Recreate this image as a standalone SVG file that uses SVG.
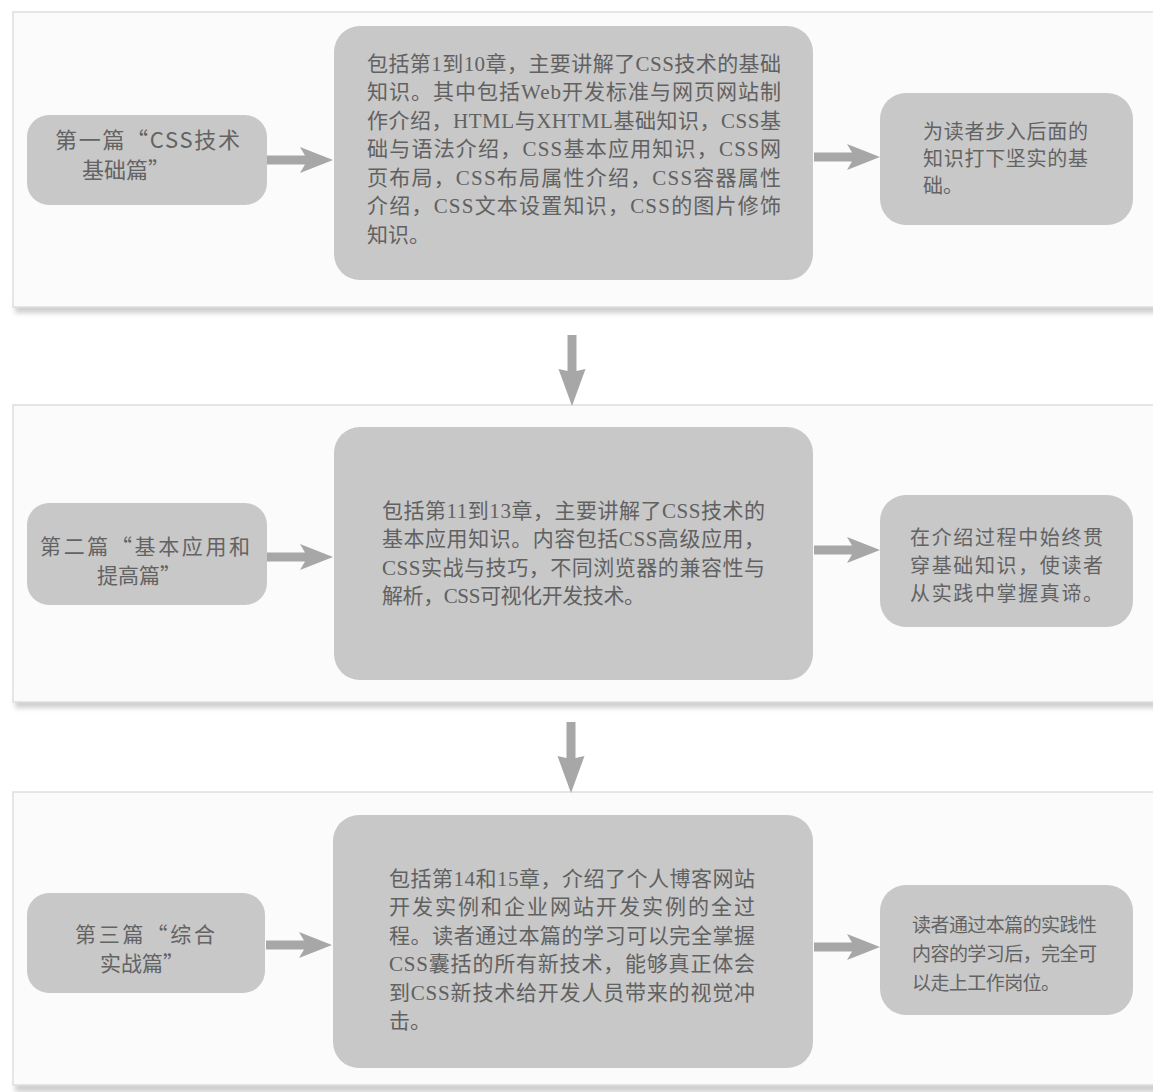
<svg xmlns="http://www.w3.org/2000/svg" xmlns:xlink="http://www.w3.org/1999/xlink" width="1153" height="1092" viewBox="0 0 1153 1092">
<style>
.panel{fill:#fbfbfb;stroke:#dedede;stroke-width:1.5}
.shadow{fill:#cfcfcf}
.node{fill:#c8c8c8}
.arrow{fill:#a7a7a7}
.lbl{font-family:"Noto Sans CJK SC","Liberation Sans",sans-serif;font-size:22px;fill:#636363}
.lbl2{font-size:21px}
.body{font-family:"Liberation Serif","Noto Sans CJK SC",serif;font-size:21px;fill:#616161}
.res{font-family:"Noto Sans CJK SC",sans-serif;font-size:20px;fill:#636363}
</style>
<defs>
<filter id="blur" x="-5%" y="-50%" width="110%" height="200%"><feGaussianBlur stdDeviation="2.5"/></filter>
<path id="harrow" d="M0,-4.5 L38,-4.5 L33,-13 L66,0 L33,13 L38,4.5 L0,4.5 Z"/>
<path id="varrow" d="M-4.5,0 L4.5,0 L4.5,36 L13.5,34 L0,71 L-13.5,34 L-4.5,36 Z"/>
</defs>
<rect width="1153" height="1092" fill="#ffffff"/>

<g id="panels">
<rect class="shadow" x="15" y="303" width="1150" height="10" filter="url(#blur)"/>
<rect class="panel" x="13" y="12" width="1150" height="295"/>
<rect class="shadow" x="15" y="698" width="1150" height="10" filter="url(#blur)"/>
<rect class="panel" x="13" y="405" width="1150" height="297"/>
<rect class="shadow" x="15" y="1082" width="1150" height="10" filter="url(#blur)"/>
<rect class="panel" x="13" y="792" width="1150" height="293"/>
</g>

<g id="node-part1">
<rect class="node" x="27" y="115" width="240" height="90" rx="22"/>
<text class="lbl" x="55" y="148" textLength="185" lengthAdjust="spacing">第一篇“CSS技术</text>
<text class="lbl" x="82" y="178">基础篇”</text>
</g>
<g id="node-content1">
<rect class="node" x="334" y="26" width="479" height="254" rx="26"/>
<text class="body">
<tspan x="367" y="70.5" textLength="414" lengthAdjust="spacing">包括第1到10章，主要讲解了CSS技术的基础</tspan>
<tspan x="367" y="99" textLength="414" lengthAdjust="spacing">知识。其中包括Web开发标准与网页网站制</tspan>
<tspan x="367" y="127.5" textLength="414" lengthAdjust="spacing">作介绍，HTML与XHTML基础知识，CSS基</tspan>
<tspan x="367" y="156" textLength="414" lengthAdjust="spacing">础与语法介绍，CSS基本应用知识，CSS网</tspan>
<tspan x="367" y="184.5" textLength="414" lengthAdjust="spacing">页布局，CSS布局属性介绍，CSS容器属性</tspan>
<tspan x="367" y="213" textLength="414" lengthAdjust="spacing">介绍，CSS文本设置知识，CSS的图片修饰</tspan>
<tspan x="367" y="241.5">知识。</tspan>
</text>
</g>
<g id="node-result1">
<rect class="node" x="880" y="93" width="253" height="132" rx="26"/>
<text class="res">
<tspan x="923" y="139" textLength="165" lengthAdjust="spacing">为读者步入后面的</tspan>
<tspan x="923" y="166" textLength="165" lengthAdjust="spacing">知识打下坚实的基</tspan>
<tspan x="923" y="193">础。</tspan>
</text>
</g>

<g id="node-part2">
<rect class="node" x="27" y="503" width="240" height="102" rx="22"/>
<text class="lbl lbl2" x="40" y="554" textLength="210" lengthAdjust="spacing">第二篇“基本应用和</text>
<text class="lbl lbl2" x="97" y="583">提高篇”</text>
</g>
<g id="node-content2">
<rect class="node" x="334" y="427" width="479" height="253" rx="26"/>
<text class="body">
<tspan x="382" y="517.5" textLength="383" lengthAdjust="spacing">包括第11到13章，主要讲解了CSS技术的</tspan>
<tspan x="382" y="546" textLength="383" lengthAdjust="spacing">基本应用知识。内容包括CSS高级应用，</tspan>
<tspan x="382" y="574.5" textLength="383" lengthAdjust="spacing">CSS实战与技巧，不同浏览器的兼容性与</tspan>
<tspan x="382" y="603" textLength="263" lengthAdjust="spacing">解析，CSS可视化开发技术。</tspan>
</text>
</g>
<g id="node-result2">
<rect class="node" x="880" y="495" width="253" height="132" rx="26"/>
<text class="res">
<tspan x="910" y="545" textLength="193" lengthAdjust="spacing">在介绍过程中始终贯</tspan>
<tspan x="910" y="573" textLength="193" lengthAdjust="spacing">穿基础知识，使读者</tspan>
<tspan x="910" y="601" textLength="193" lengthAdjust="spacing">从实践中掌握真谛。</tspan>
</text>
</g>

<g id="node-part3">
<rect class="node" x="27" y="893" width="238" height="100" rx="22"/>
<text class="lbl lbl2" x="75" y="942" textLength="140" lengthAdjust="spacing">第三篇“综合</text>
<text class="lbl lbl2" x="100" y="971">实战篇”</text>
</g>
<g id="node-content3">
<rect class="node" x="333" y="815" width="480" height="253" rx="26"/>
<text class="body">
<tspan x="389" y="885.5" textLength="366" lengthAdjust="spacing">包括第14和15章，介绍了个人博客网站</tspan>
<tspan x="389" y="914" textLength="366" lengthAdjust="spacing">开发实例和企业网站开发实例的全过</tspan>
<tspan x="389" y="942.5" textLength="366" lengthAdjust="spacing">程。读者通过本篇的学习可以完全掌握</tspan>
<tspan x="389" y="971" textLength="366" lengthAdjust="spacing">CSS囊括的所有新技术，能够真正体会</tspan>
<tspan x="389" y="999.5" textLength="366" lengthAdjust="spacing">到CSS新技术给开发人员带来的视觉冲</tspan>
<tspan x="389" y="1028">击。</tspan>
</text>
</g>
<g id="node-result3">
<rect class="node" x="880" y="885" width="253" height="130" rx="26"/>
<text class="res" style="font-size:19px">
<tspan x="912" y="932" textLength="185" lengthAdjust="spacing">读者通过本篇的实践性</tspan>
<tspan x="912" y="961" textLength="185" lengthAdjust="spacing">内容的学习后，完全可</tspan>
<tspan x="912" y="990" textLength="148" lengthAdjust="spacing">以走上工作岗位。</tspan>
</text>
</g>

<g id="connectors" class="arrow">
<use xlink:href="#harrow" href="#harrow" x="267" y="160"/>
<use xlink:href="#harrow" href="#harrow" x="814" y="157"/>
<use xlink:href="#varrow" href="#varrow" x="572" y="335"/>
<use xlink:href="#harrow" href="#harrow" x="267" y="557"/>
<use xlink:href="#harrow" href="#harrow" x="814" y="550"/>
<use xlink:href="#varrow" href="#varrow" x="571" y="722"/>
<use xlink:href="#harrow" href="#harrow" x="266" y="945"/>
<use xlink:href="#harrow" href="#harrow" x="814" y="947"/>
</g>
</svg>
